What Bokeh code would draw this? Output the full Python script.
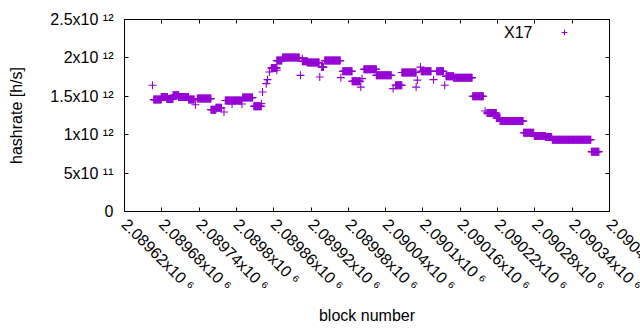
import math
import numpy as np
from bokeh.plotting import figure
from bokeh.models import Range1d, FixedTicker, LinearAxis, Legend, LegendItem, Label, ColumnDataSource
from bokeh.embed import file_html
from bokeh.resources import INLINE

series_name = "X17"
x_title = "block number"
y_title = "hashrate [h/s]"

# runs of consecutive blocks sharing one hashrate value (h/s)
run_start = [2089667, 2089679, 2089688, 2089698, 2089707, 2089723, 2089737, 2089759, 2089767,
             2089782, 2089810, 2089828, 2089856, 2089865, 2089874, 2089906, 2089914, 2089937,
             2089942, 2089971, 2089986, 2090005, 2090025, 2090056, 2090066, 2090097, 2090122,
             2090137, 2090149, 2090180, 2090203, 2090218, 2090224, 2090262, 2090279, 2090297,
             2090308, 2090371]
run_end = [2089679, 2089689, 2089698, 2089707, 2089723, 2089732, 2089759, 2089767, 2089776,
           2089808, 2089826, 2089840, 2089865, 2089873, 2089901, 2089914, 2089933, 2089940,
           2089967, 2089986, 2089999, 2090025, 2090049, 2090066, 2090089, 2090113, 2090133,
           2090149, 2090179, 2090197, 2090218, 2090224, 2090261, 2090278, 2090297, 2090307,
           2090370, 2090383]
run_value = [1.457e12, 1.49e12, 1.464e12, 1.513e12, 1.49e12, 1.457e12, 1.47e12, 1.326e12, 1.35e12,
             1.445e12, 1.483e12, 1.37e12, 1.869e12, 1.965e12, 2.004e12, 1.956e12, 1.939e12, 1.88e12,
             1.965e12, 1.826e12, 1.695e12, 1.852e12, 1.773e12, 1.643e12, 1.809e12, 1.826e12, 1.826e12,
             1.76e12, 1.743e12, 1.50e12, 1.282e12, 1.217e12, 1.177e12, 1.026e12, 0.982e12, 0.969e12,
             0.935e12, 0.778e12]

# isolated blocks
single_block = [2089665, 2089734, 2089780, 2089793, 2089809, 2089840, 2089842, 2089848, 2089850,
                2089853, 2089865, 2089903, 2089906, 2089934, 2089968, 2090000, 2090002, 2090052,
                2090089, 2090091, 2090096, 2090117, 2090135, 2090200]
single_value = [1.643e12, 1.39e12, 1.295e12, 1.40e12, 1.40e12, 1.404e12, 1.556e12, 1.665e12, 1.717e12,
                1.816e12, 1.84e12, 1.773e12, 1.99e12, 1.751e12, 1.743e12, 1.62e12, 1.73e12, 1.60e12,
                1.62e12, 1.71e12, 1.88e12, 1.717e12, 1.643e12, 1.308e12]

x_ticks = [2089620, 2089680, 2089740, 2089800, 2089860, 2089920, 2089980,
           2090040, 2090100, 2090160, 2090220, 2090280, 2090340, 2090400]
x_tick_labels = ["2.08962x10 ⁶", "2.08968x10 ⁶", "2.08974x10 ⁶", "2.0898x10 ⁶", "2.08986x10 ⁶",
                 "2.08992x10 ⁶", "2.08998x10 ⁶", "2.09004x10 ⁶", "2.0901x10 ⁶", "2.09016x10 ⁶",
                 "2.09022x10 ⁶", "2.09028x10 ⁶", "2.09034x10 ⁶", "2.0904x10 ⁶"]
y_ticks = [0, 500000000000, 1000000000000, 1500000000000, 2000000000000, 2500000000000]
y_tick_labels = ["0", "5x10 ¹¹", "1x10 ¹²", "1.5x10 ¹²", "2x10 ¹²", "2.5x10 ¹²"]

x_min, x_max = 2089620, 2090400
y_min, y_max = 0, 2.5e12

# expand runs to one point per block
xs, ys = [], []
for s, e, v in zip(run_start, run_end, run_value):
    blocks = np.arange(s, e + 1)
    xs.extend(blocks.tolist())
    ys.extend([v] * len(blocks))
xs.extend(single_block)
ys.extend(single_value)
src = ColumnDataSource(dict(block=xs, hashrate=ys))

FONT = "Liberation Sans"
COLOR = "#9400d3"

p = figure(width=640, height=330, output_backend="svg", toolbar_location=None,
           x_range=Range1d(x_min, x_max), y_range=Range1d(y_min, y_max),
           min_border_left=124, min_border_right=31, min_border_top=19, min_border_bottom=119,
           x_axis_label=x_title, y_axis_label=y_title)
p.grid.visible = False
p.outline_line_color = "black"
p.outline_line_width = 1
p.background_fill_color = "white"
p.border_fill_color = "white"

r = p.scatter("block", "hashrate", source=src, marker="cross", size=8,
              line_color=COLOR, line_width=1.1)

# Bokeh pulls the last label of an axis back inside the canvas; the original lets the
# label at the right edge run off the window.  An empty label on a companion tick a hair
# to the right becomes the "last" one, so the real last label stays at its own tick.
edge_tick = x_ticks[-1] - 0.001
bottom_ticks = x_ticks[:-1] + [edge_tick, x_ticks[-1]]
overrides = {t: l for t, l in zip(x_ticks[:-1], x_tick_labels[:-1])}
overrides[edge_tick] = x_tick_labels[-1]
overrides[x_ticks[-1]] = ""

xt_bottom = FixedTicker(ticks=bottom_ticks, minor_ticks=[])
xt = FixedTicker(ticks=x_ticks, minor_ticks=[])
yt = FixedTicker(ticks=y_ticks, minor_ticks=[])

def style_axis(ax):
    ax.axis_line_color = "black"
    ax.major_tick_line_color = "black"
    ax.major_tick_in = 4
    ax.major_tick_out = 0
    ax.minor_tick_line_color = None
    ax.major_label_text_font = FONT
    ax.major_label_text_font_size = "16px"
    ax.major_label_text_color = "black"
    ax.axis_label_text_font = FONT
    ax.axis_label_text_font_size = "16px"
    ax.axis_label_text_font_style = "normal"
    ax.axis_label_text_color = "black"

xa = p.xaxis[0]
xa.ticker = xt_bottom
style_axis(xa)
xa.major_label_overrides = overrides
xa.major_label_orientation = -math.pi / 4
xa.major_label_standoff = 10
xa.axis_label_standoff = 4

ya = p.yaxis[0]
ya.ticker = yt
style_axis(ya)
ya.major_label_overrides = {t: l for t, l in zip(y_ticks, y_tick_labels)}
ya.major_label_standoff = 11
ya.axis_label_standoff = 22

top = LinearAxis(ticker=xt)
style_axis(top)
top.major_label_overrides = {t: "" for t in x_ticks}
top.major_label_standoff = 0
p.add_layout(top, "above")
right = LinearAxis(ticker=yt)
style_axis(right)
right.major_label_overrides = {t: "" for t in y_ticks}
right.major_label_standoff = 0
p.add_layout(right, "right")

legend = Legend(items=[LegendItem(label="", renderers=[r])], location=(433, 172),
                padding=0, margin=0, spacing=0, glyph_width=14, glyph_height=14,
                label_height=14, label_width=0, label_standoff=0,
                background_fill_alpha=0, border_line_color=None)
p.add_layout(legend, "center")
p.add_layout(Label(x=408, y=179, x_units="screen", y_units="screen", text=series_name,
                   text_align="right", text_baseline="middle", text_font=FONT,
                   text_font_size="16px", text_color="black"))

open("out.html", "w").write(file_html(p, INLINE))
